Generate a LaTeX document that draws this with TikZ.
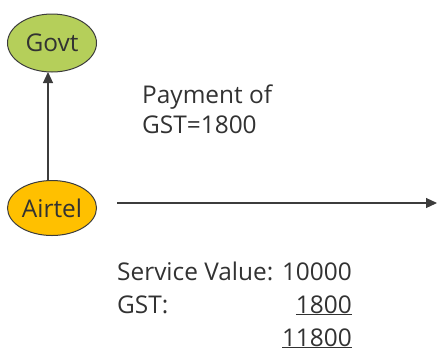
\documentclass[tikz,border=0pt]{standalone}
\usepackage{fontspec}
\setmainfont{Open Sans}
\usetikzlibrary{arrows.meta,shapes.geometric}
\definecolor{govtgreen}{RGB}{181,207,90}
\definecolor{airtelyellow}{RGB}{255,192,0}
\definecolor{linegray}{RGB}{60,60,60}
\definecolor{textgray}{RGB}{50,50,50}
\tikzset{
  ent/.style={ellipse, draw=linegray, line width=1bp, minimum width=89bp, minimum height=58bp, inner sep=0pt, font=\fontsize{24.5}{28}\selectfont, text=textgray},
  arr/.style={draw=linegray, line width=1.2bp, -{Triangle[length=11bp,width=10bp]}},
  txt/.style={font=\fontsize{24.5}{28}\selectfont, text=textgray, inner sep=0pt, anchor=base west},
}
\begin{document}
\begin{tikzpicture}[x=1bp,y=-1bp]
\useasboundingbox (0,0) rectangle (441,360);
\node[ent, fill=govtgreen] (govt) at (52,43) {Govt};
\node[ent, fill=airtelyellow, minimum height=55bp] (airtel) at (52,208) {Airtel};
\coordinate (a1) at (48,181);
\coordinate (a2) at (48,72);
\draw[arr] (a1) -- (a2);
\coordinate (h1) at (117,203);
\coordinate (h2) at (437,203);
\draw[arr] (h1) -- (h2);
\node[txt] (pay1) at (142,103) {Payment of};
\node[txt] (pay2) at (142,133) {GST=1800};
\node[txt] (sv) at (117,280) {Service Value:};
\node[txt, anchor=base east] (sv2) at (352,280) {10000};
\node[txt] (gst) at (117,313) {GST:};
\node[txt, anchor=base east] (gst2) at (352,313) {\underline{1800}};
\node[txt, anchor=base east] (tot) at (352,346) {\underline{11800}};
\end{tikzpicture}
\end{document}
